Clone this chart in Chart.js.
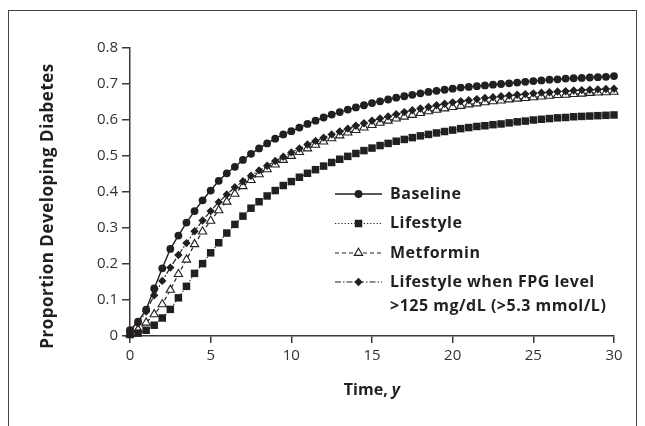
<!DOCTYPE html>
<html>
<head>
<meta charset="utf-8">
<script src="https://cdn.jsdelivr.net/npm/chart.js@4.4.0/dist/chart.umd.min.js"></script>
<style>
  html, body { margin: 0; padding: 0; background: #fff; }
  #wrap { position: relative; width: 645px; height: 426px; overflow: hidden; }
  #frame { position: absolute; left: 8px; top: 10px; width: 627px; height: 440px; border: 1.5px solid #444; }
  #chart { position: absolute; left: 0; top: 0; }
</style>
</head>
<body>
<div id="wrap">
  <div id="frame"></div>
  <canvas id="chart" width="645" height="426"></canvas>
</div>
<script>
// Time points (years), one marker every half year
const years = [0, 0.5, 1, 1.5, 2, 2.5, 3, 3.5, 4, 4.5, 5, 5.5, 6, 6.5, 7, 7.5, 8, 8.5, 9, 9.5,
  10, 10.5, 11, 11.5, 12, 12.5, 13, 13.5, 14, 14.5, 15, 15.5, 16, 16.5, 17, 17.5, 18, 18.5, 19, 19.5,
  20, 20.5, 21, 21.5, 22, 22.5, 23, 23.5, 24, 24.5, 25, 25.5, 26, 26.5, 27, 27.5, 28, 28.5, 29, 29.5, 30];

const baseline = [0.016, 0.040, 0.073, 0.132, 0.188, 0.242, 0.279, 0.315, 0.347, 0.377,
  0.404, 0.431, 0.452, 0.470, 0.489, 0.506, 0.521, 0.535, 0.548, 0.560,
  0.569, 0.579, 0.589, 0.598, 0.607, 0.615, 0.622, 0.629, 0.635, 0.641,
  0.647, 0.652, 0.657, 0.662, 0.666, 0.670, 0.674, 0.678, 0.681, 0.684,
  0.687, 0.690, 0.692, 0.694, 0.696, 0.698, 0.700, 0.702, 0.704, 0.706,
  0.708, 0.710, 0.712, 0.713, 0.715, 0.716, 0.717, 0.718, 0.719, 0.720, 0.722];

const lifestyle = [0.004, 0.008, 0.016, 0.030, 0.050, 0.074, 0.106, 0.138, 0.174, 0.201,
  0.231, 0.259, 0.286, 0.310, 0.333, 0.355, 0.373, 0.389, 0.404, 0.418,
  0.429, 0.441, 0.452, 0.462, 0.472, 0.482, 0.491, 0.499, 0.507, 0.515,
  0.522, 0.529, 0.535, 0.541, 0.546, 0.551, 0.556, 0.560, 0.564, 0.568,
  0.572, 0.576, 0.579, 0.582, 0.584, 0.587, 0.589, 0.592, 0.595, 0.597,
  0.600, 0.602, 0.604, 0.606, 0.607, 0.609, 0.610, 0.611, 0.612, 0.613, 0.614];

const metformin = [0.005, 0.018, 0.037, 0.060, 0.088, 0.128, 0.172, 0.212, 0.255, 0.290,
  0.320, 0.349, 0.373, 0.395, 0.416, 0.433, 0.449, 0.463, 0.476, 0.489,
  0.500, 0.511, 0.521, 0.531, 0.540, 0.549, 0.557, 0.565, 0.572, 0.579,
  0.586, 0.592, 0.598, 0.604, 0.609, 0.614, 0.619, 0.624, 0.628, 0.632,
  0.636, 0.639, 0.643, 0.646, 0.649, 0.652, 0.654, 0.657, 0.659, 0.661,
  0.663, 0.665, 0.667, 0.669, 0.670, 0.672, 0.673, 0.675, 0.676, 0.677, 0.678];

const lifestyleFpg = [0.012, 0.035, 0.068, 0.113, 0.153, 0.190, 0.225, 0.258, 0.291, 0.321,
  0.347, 0.372, 0.393, 0.413, 0.430, 0.445, 0.460, 0.473, 0.486, 0.498,
  0.510, 0.521, 0.532, 0.542, 0.551, 0.560, 0.568, 0.576, 0.584, 0.591,
  0.598, 0.604, 0.610, 0.616, 0.622, 0.627, 0.632, 0.636, 0.641, 0.645,
  0.649, 0.652, 0.655, 0.658, 0.661, 0.663, 0.666, 0.668, 0.670, 0.672,
  0.674, 0.676, 0.677, 0.679, 0.680, 0.682, 0.683, 0.684, 0.685, 0.686, 0.687];

const seriesLabels = [
  ['Baseline'],
  ['Lifestyle'],
  ['Metformin'],
  ['Lifestyle when FPG level', '>125 mg/dL (>5.3 mmol/L)']
];
const xTicks = [0, 5, 10, 15, 20, 25, 30];
const yTicks = [0, 0.1, 0.2, 0.3, 0.4, 0.5, 0.6, 0.7, 0.8];

const ink = '#231f20';
const axisInk = '#3a3a3a';
const fontFamily = "'Open Sans', 'Noto Sans', sans-serif";

function toPoints(values) {
  return values.map((v, i) => ({ x: years[i], y: v }));
}

// custom legend, drawn inside the plot area like the original figure
const legendPlugin = {
  id: 'figureLegend',
  afterDatasetsDraw(chart) {
    const ctx = chart.ctx;
    const rows = [194, 223.5, 253, 282];
    const x0 = 335, x1 = 382, xm = 358.5, tx = 390;
    chart.data.datasets.forEach((ds, i) => {
      const y = rows[i];
      ctx.save();
      ctx.strokeStyle = ink;
      ctx.lineWidth = ds.borderWidth;
      ctx.setLineDash(ds.borderDash || []);
      ctx.beginPath();
      ctx.moveTo(x0, y);
      ctx.lineTo(x1, y);
      ctx.stroke();
      ctx.setLineDash([]);
      ctx.fillStyle = ds.pointBackgroundColor;
      ctx.strokeStyle = ds.pointBorderColor || ink;
      ctx.lineWidth = ds.pointBorderWidth || 0;
      Chart.helpers.drawPoint(ctx, {
        pointStyle: ds.pointStyle,
        radius: ds.pointRadius,
        rotation: 0,
        borderWidth: ds.pointBorderWidth || 0
      }, xm, y);
      ctx.fillStyle = ink;
      ctx.font = 'bold 16px ' + fontFamily;
      ctx.letterSpacing = '0.5px';
      ctx.textAlign = 'left';
      ctx.textBaseline = 'middle';
      seriesLabels[i].forEach((line, k) => ctx.fillText(line, tx, y + k * 24));
      ctx.restore();
    });
  }
};

// axis titles (x title has an italic "y")
const titlePlugin = {
  id: 'axisTitles',
  afterDraw(chart) {
    const ctx = chart.ctx;
    const area = chart.chartArea;
    ctx.save();
    ctx.fillStyle = ink;
    ctx.textBaseline = 'middle';
    // y title
    ctx.save();
    ctx.translate(48, 206);
    ctx.rotate(-Math.PI / 2);
    ctx.textAlign = 'center';
    ctx.font = 'bold 17px ' + fontFamily;
    ctx.letterSpacing = '0.5px';
    ctx.fillText('Proportion Developing Diabetes', 0, 0);
    ctx.restore();
    // x title
    const cx = (area.left + area.right) / 2;
    ctx.font = 'bold 16px ' + fontFamily;
    const w1 = ctx.measureText('Time, ').width;
    ctx.font = 'italic bold 16px ' + fontFamily;
    const w2 = ctx.measureText('y').width;
    const sx = cx - (w1 + w2) / 2;
    ctx.textAlign = 'left';
    ctx.font = 'bold 16px ' + fontFamily;
    ctx.fillText('Time, ', sx, 390);
    ctx.font = 'italic bold 16px ' + fontFamily;
    ctx.fillText('y', sx + w1, 390);
    ctx.restore();
  }
};

const ctx = document.getElementById('chart').getContext('2d');
new Chart(ctx, {
  type: 'line',
  data: {
    datasets: [
      {
        label: 'Baseline',
        data: toPoints(baseline),
        borderColor: ink,
        borderWidth: 1.4,
        borderDash: [],
        pointStyle: 'circle',
        pointRadius: 3.9,
        pointBackgroundColor: ink,
        pointBorderColor: ink,
        pointBorderWidth: 0,
        order: 0
      },
      {
        label: 'Lifestyle',
        data: toPoints(lifestyle),
        borderColor: ink,
        borderWidth: 1.2,
        borderDash: [1.2, 2],
        pointStyle: 'rect',
        pointRadius: 5.3,
        pointBackgroundColor: ink,
        pointBorderColor: ink,
        pointBorderWidth: 0,
        order: 0
      },
      {
        label: 'Metformin',
        data: toPoints(metformin),
        borderColor: ink,
        borderWidth: 1.2,
        borderDash: [4, 3],
        pointStyle: 'triangle',
        pointRadius: 4.8,
        pointBackgroundColor: '#ffffff',
        pointBorderColor: ink,
        pointBorderWidth: 1.1,
        order: 2
      },
      {
        label: 'Lifestyle when FPG level >125 mg/dL (>5.3 mmol/L)',
        data: toPoints(lifestyleFpg),
        borderColor: ink,
        borderWidth: 1.2,
        borderDash: [6, 2, 1.5, 2],
        pointStyle: 'rectRot',
        pointRadius: 4.2,
        pointBackgroundColor: ink,
        pointBorderColor: ink,
        pointBorderWidth: 0,
        order: 1
      }
    ]
  },
  options: {
    responsive: false,
    animation: false,
    clip: false,
    layout: { padding: { left: 0, right: 31, top: 48, bottom: 0 } },
    plugins: { legend: { display: false }, tooltip: { enabled: false } },
    elements: { line: { tension: 0, fill: false } },
    scales: {
      x: {
        type: 'linear',
        min: 0,
        max: 30,
        afterFit: s => { s.height = 90; },
        afterBuildTicks: s => { s.ticks = xTicks.map(v => ({ value: v })); },
        border: { display: true, color: axisInk, width: 1.5 },
        grid: { drawOnChartArea: false, drawTicks: true, tickLength: 7, color: axisInk, lineWidth: 1.5 },
        ticks: { color: '#333', font: { family: fontFamily, size: 15 }, padding: 4, maxRotation: 0 }
      },
      y: {
        type: 'linear',
        min: 0,
        max: 0.8,
        afterFit: s => { s.width = 130; },
        afterBuildTicks: s => { s.ticks = yTicks.map(v => ({ value: v })); },
        border: { display: true, color: axisInk, width: 1.5 },
        grid: { drawOnChartArea: false, drawTicks: true, tickLength: 8, color: axisInk, lineWidth: 1.5 },
        ticks: {
          color: '#333',
          font: { family: fontFamily, size: 15 },
          padding: 4,
          callback: v => (v === 0 ? '0' : v.toFixed(1))
        }
      }
    }
  },
  plugins: [legendPlugin, titlePlugin]
});
</script>
</body>
</html>
